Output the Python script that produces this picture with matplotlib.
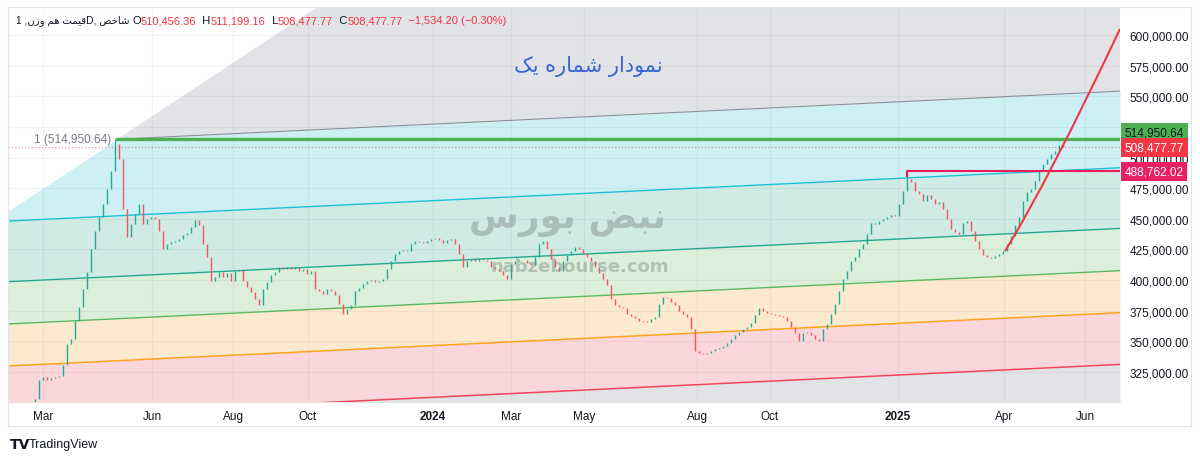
import numpy as np
import matplotlib.pyplot as plt
from matplotlib.patches import Rectangle, PathPatch
from matplotlib.path import Path
from matplotlib.transforms import blended_transform_factory

plt.rcParams['font.family'] = ['Liberation Sans', 'DejaVu Sans']

# --- data (prices in thousands), one candle per bar ---
close_k = [
    303.0, 318.5, 320.9, 318.5, 320.1, 320.9, 321.5, 330.7, 347.9, 351.9,
    366.6, 378.0, 392.7, 406.6, 425.4, 440.1, 451.5, 462.1, 474.3, 489.0,
    511.1, 498.8, 458.0, 435.2, 445.8, 453.9, 462.1, 445.8, 449.9, 451.5,
    449.9, 440.1, 425.4, 429.5, 431.1, 431.9, 433.5, 436.8, 438.4, 443.3,
    449.0, 445.0, 429.5, 418.8, 399.3, 402.5, 406.6, 402.5, 405.8, 399.3,
    407.4, 408.2, 399.3, 394.4, 390.3, 384.6, 379.7, 392.7, 398.4, 404.2,
    406.6, 410.7, 409.1, 410.7, 409.1, 410.7, 407.4, 409.1, 405.0, 407.4,
    392.7, 391.1, 388.7, 392.7, 391.1, 387.8, 380.5, 372.3, 376.4, 379.7,
    391.1, 393.6, 396.8, 399.3, 400.1, 398.4, 399.3, 400.9, 409.1, 415.6,
    421.3, 423.7, 424.6, 423.7, 429.5, 431.9, 431.1, 430.3, 431.9, 433.5,
    434.4, 432.7, 430.3, 432.7, 433.5, 429.5, 421.3, 410.7, 415.6, 417.2,
    415.6, 417.2, 416.4, 415.6, 410.7, 409.1, 407.4, 404.2, 400.9, 413.1,
    415.6, 416.0, 416.4, 414.0, 412.3, 418.8, 429.5, 431.9, 425.4, 417.2,
    410.7, 407.4, 415.6, 420.5, 423.7, 427.0, 425.4, 422.1, 418.8, 415.6,
    410.7, 405.8, 400.9, 396.0, 384.6, 379.7, 378.0, 377.2, 372.3, 370.7,
    369.1, 366.6, 366.2, 365.8, 368.3, 369.9, 380.5, 386.2, 385.4, 382.1,
    379.7, 374.8, 372.3, 369.9, 360.1, 342.1, 340.5, 339.7, 340.5, 342.1,
    343.8, 344.6, 346.2, 348.7, 351.9, 355.2, 357.6, 360.1, 361.7, 365.0,
    371.5, 377.2, 374.8, 373.2, 372.3, 371.5, 371.0, 369.9, 366.6, 361.7,
    356.8, 350.3, 356.8, 357.6, 355.2, 351.9, 350.3, 360.1, 364.2, 372.3,
    380.5, 391.1, 400.9, 407.4, 415.6, 418.8, 425.4, 429.5, 437.6, 446.6,
    445.8, 448.2, 449.9, 451.5, 453.1, 452.3, 462.1, 472.7, 482.5, 480.0,
    472.7, 470.3, 464.5, 469.4, 466.2, 462.1, 463.7, 458.0, 449.9, 441.7,
    439.2, 437.6, 446.6, 448.2, 440.1, 431.9, 425.4, 420.5, 418.8, 418.0,
    419.7, 421.3, 423.7, 429.5, 436.0, 445.0, 451.5, 464.5, 471.9, 474.3,
    480.9, 489.0, 494.7, 498.8, 502.9, 505.3, 510.46, 508.48,
]
first_open_k = 300.0
peak_idx = [20, 218]
peak_high_k = [514.95, 488.76]

tick_bar = [2, 29.25, 49.5, 68.25, 99.5, 119, 137.25, 165.5, 183.75, 215.75, 242.25, 262.5]
tick_lab = ['Mar', 'Jun', 'Aug', 'Oct', '2024', 'Mar', 'May', 'Aug', 'Oct', '2025', 'Apr', 'Jun']
price_ticks = [325000, 350000, 375000, 400000, 425000, 450000, 475000,
               500000, 525000, 550000, 575000, 600000]

# fib channel (anchored on the peak)
chan_bar0 = 20.5
chan_top_k = 514.95
chan_slope_k = 0.1565
level_drop_k = [0, 62.5, 112.0, 146.5, 180.8, 223.0]
diag_slope_k = 2.154

# red curve drawing: start, control, end
trend_bar = [242.5, 253.2, 271.25]
trend_k = [423.7, 480.2, 605.0]

tag_price = [514950.64, 508477.77, 488762.02]
tag_txt = ['514,950.64', '508,477.77', '488,762.02']

# visual-order Persian strings (presentation forms)
head_fa = "1 ," + "\uFEE5\uFEAF\uFEED" + " " + "\uFEE2\uFEEB" + " " + \
    "\uFE96\uFEE4\uFEF4\uFED7" + "D," + " " + "\uFEBA\uFEA7\uFE8E\uFEB7"
title_fa = "\uFB8F\uFEF3 \uFEE9\uFEAD\uFE8E\uFEE4\uFEB7 \uFEAD\uFE8D\uFEA9\uFEEE\uFEE4\uFEE7"
brand_fa = "\uFEB1\uFEAD\uFEEE\uFE91 \uFEBE\uFE92\uFEE7"

# --- styles ---
band_colors = ['#e1e3e6', '#cdf0f4', '#d0eae4', '#dcefdb', '#fde9cd', '#fbd7db', '#e1e3e6']
level_colors = ['#8a8e99', '#1cc0d6', '#22a88f', '#5cb860', '#ffa21e', '#f2455a']
level_widths = [0.8, 1.0, 1.0, 1.0, 1.1, 1.1]
up_col, dn_col = '#22ab94', '#f7525f'
text_col = '#131722'

fig = plt.figure(figsize=(12, 4.6), dpi=100)
ax = fig.add_axes([8 / 1200, 57 / 460, 1112 / 1200, 395 / 460])
x0, x1 = -6.75, 271.25
ax.set_xlim(x0, x1)
ax.set_ylim(300500, 622900)

xs = np.linspace(x0, x1, 800)
top = (chan_top_k + chan_slope_k * (xs - chan_bar0)) * 1000
levels = [top - d * 1000 for d in level_drop_k]
diag = (chan_top_k + diag_slope_k * (xs - chan_bar0)) * 1000
bounds = [np.full_like(xs, 1e7)] + levels + [np.zeros_like(xs)]
for j, col in enumerate(band_colors):
    u = np.minimum(bounds[j], diag)
    l = np.minimum(bounds[j + 1], diag)
    ax.fill_between(xs, l, u, color=col, lw=0, zorder=1)
for lv, col, w in zip(levels, level_colors, level_widths):
    m = lv <= diag
    ax.plot(xs[m], lv[m], color=col, lw=w, zorder=3)

# grid
for t in tick_bar:
    ax.axvline(t, color='#000000', alpha=0.045, lw=0.8, zorder=2)
for p in price_ticks:
    ax.axhline(p, color='#000000', alpha=0.045, lw=0.8, zorder=2)

# candles
c = np.array(close_k) * 1000
o = np.r_[[first_open_k], close_k[:-1]] * 1000
idx = np.arange(len(c))
lo = np.minimum(o, c)
hi = np.maximum(np.maximum(o, c), lo + 700)
up = c >= o
ax.vlines(idx[up], lo[up], hi[up], colors=up_col, lw=1.0, zorder=4)
ax.vlines(idx[~up], lo[~up], hi[~up], colors=dn_col, lw=1.0, zorder=4)
pk = np.array(peak_idx)
ax.vlines(pk, hi[pk], np.array(peak_high_k) * 1000, colors=up_col, lw=0.8, zorder=4)

# drawings
ax.plot([chan_bar0, x1], [tag_price[0]] * 2, color='#4caf50', lw=2.4, zorder=5)
ax.axhline(tag_price[1], color='#f23645', lw=0.8, ls=(0, (1, 2)), alpha=0.6, zorder=5)
ax.plot([peak_idx[1], peak_idx[1], x1], [484700, tag_price[2], tag_price[2]],
        color='#ec1c5c', lw=1.5, zorder=5)
curve = Path(list(zip(trend_bar, np.array(trend_k) * 1000)),
             [Path.MOVETO, Path.CURVE3, Path.CURVE3])
ax.add_patch(PathPatch(curve, fill=False, ec='#f23645', lw=1.5, zorder=6))
ax.text(19, tag_price[0], '1 (514,950.64)', ha='right', va='center',
        fontsize=8.5, color='#787b86', zorder=7)

# axes
for s in ax.spines.values():
    s.set_visible(False)
ax.yaxis.tick_right()
ax.set_yticks(price_ticks)
ax.set_yticklabels([f'{p:,.2f}' for p in price_ticks])
ax.tick_params(axis='y', length=0, pad=7, labelsize=8.5, labelcolor=text_col)
ax.set_xticks(tick_bar)
ax.set_xticklabels(tick_lab)
ax.tick_params(axis='x', length=0, pad=6, labelsize=8.5, labelcolor=text_col)
for lab in ax.get_xticklabels():
    if lab.get_text().isdigit():
        lab.set_fontweight('bold')

# price tags
tr = blended_transform_factory(ax.transAxes, ax.transData)
tag_fc = ['#4caf50', '#f23645', '#e91e63']
tag_tc = [text_col, 'white', 'white']
tag_shift = [5.0, 0.0, 0.0]
for p, s, fc, tc, dy in zip(tag_price, tag_txt, tag_fc, tag_tc, tag_shift):
    ax.annotate(s, xy=(1, p), xycoords=tr, xytext=(3.5, dy), textcoords='offset points',
                ha='left', va='center', fontsize=8.5, color=tc, annotation_clip=False,
                bbox=dict(boxstyle='square,pad=0.3', fc=fc, ec='none'), zorder=10)

# header legend
prev = ax.annotate(head_fa + ' ', xy=(16 / 1200, 1 - 26 / 460), xycoords='figure fraction',
                   fontsize=7.3, color=text_col, va='bottom', ha='left', zorder=10)
parts = [('O', text_col), ('510,456.36', '#f23645'), ('  H', text_col), ('511,199.16', '#f23645'),
         ('  L', text_col), ('508,477.77', '#f23645'), ('  C', text_col), ('508,477.77', '#f23645'),
         ('  \u22121,534.20 (\u22120.30%)', '#f23645')]
for s, col in parts:
    prev = ax.annotate(s, xy=(1, 0), xycoords=prev, fontsize=8, color=col,
                       va='bottom', ha='left', zorder=10)

# title and watermark
fig.text(588 / 1200, 1 - 67 / 460, title_fa, ha='center', va='center',
         color='#3a64d8', fontsize=15, family=['DejaVu Sans'])
fig.text(568 / 1200, 1 - 220 / 460, brand_fa, ha='center', va='center', fontsize=26,
         weight='bold', color='#7d8b88', alpha=0.45, family=['DejaVu Sans'])
fig.text(580 / 1200, 1 - 267 / 460, 'nabzebourse.com', ha='center', va='center',
         fontsize=13, weight='bold', color='#7d8b88', alpha=0.45, family=['DejaVu Sans'])

# frame and logo
fig.add_artist(Rectangle((8 / 1200, 1 - 427 / 460), 1183 / 1200, 419 / 460,
                         transform=fig.transFigure, fill=False, ec='#e0e3eb', lw=0.8))
fig.text(10 / 1200, 1 - 445 / 460, 'TV', fontsize=10, weight='bold', color=text_col,
         va='center', family=['DejaVu Sans'])
fig.text(29 / 1200, 1 - 445 / 460, 'TradingView', fontsize=9, color=text_col, va='center')

fig.savefig('out.png', dpi=100, facecolor='white')
